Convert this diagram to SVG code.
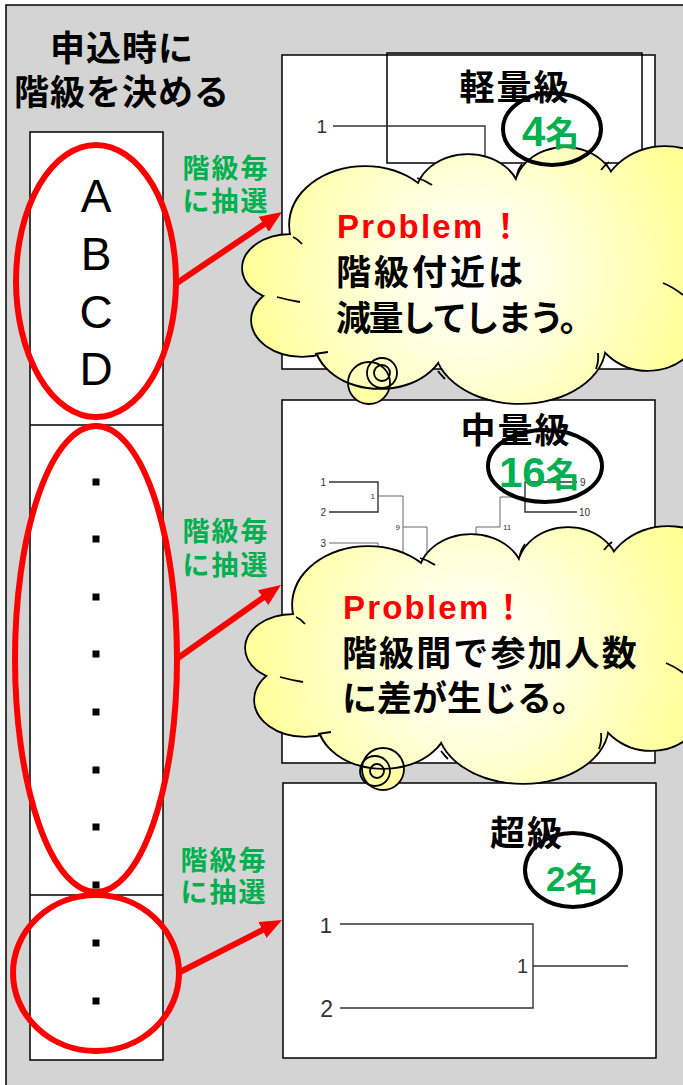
<svg xmlns="http://www.w3.org/2000/svg" width="683" height="1085" viewBox="0 0 683 1085">
<defs>
<style>
.jp{font-family:"Noto Sans CJK JP","Noto Sans CJK SC",sans-serif;font-weight:700}
.lat{font-family:"Liberation Sans","Noto Sans CJK JP",sans-serif}
.panel{fill:#fff;stroke:#000;stroke-width:1.5}
.br{fill:none;stroke:#333;stroke-width:1.4}
.br2{fill:none;stroke:#666;stroke-width:1}
.red{fill:none;stroke:#f00;stroke-width:6}
.oval{fill:none;stroke:#000;stroke-width:4}
.arrow{fill:none;stroke:#f00;stroke-width:6;marker-end:url(#ah)}
.inner{fill:none;stroke:#000;stroke-width:1.8}
.bub{fill:#ffffa6;stroke:none}
.bubs{fill:none;stroke:#000;stroke-width:1.8}
.gl{fill:#00b050;font-size:27px;letter-spacing:2px}
.pt{fill:#ff0000;font-size:33px;font-weight:700}
.ct{fill:#000;font-size:35px}
.num{fill:#333}
</style>
<radialGradient id="cg" gradientUnits="userSpaceOnUse" cx="470" cy="272" r="230">
<stop offset="0" stop-color="#ffffff"/><stop offset="0.35" stop-color="#ffffe2"/><stop offset="1" stop-color="#ffff96"/>
</radialGradient>
<marker id="ah" viewBox="0 0 22 18" refX="11" refY="9" markerWidth="22" markerHeight="18" markerUnits="userSpaceOnUse" orient="auto"><path d="M0,0 L22,9 L0,18 Z" fill="#f00"/></marker>
<g id="cloudShape">
<ellipse cx="470" cy="270" rx="180" ry="85"/>
<ellipse cx="640" cy="265" rx="40" ry="50"/>
<ellipse cx="290" cy="268" rx="47" ry="33"/>
<ellipse cx="365" cy="225" rx="75" ry="58"/>
<ellipse cx="468" cy="197" rx="52" ry="42"/>
<ellipse cx="565" cy="190" rx="50" ry="42"/>
<ellipse cx="665" cy="205" rx="65" ry="58"/>
<ellipse cx="700" cy="270" rx="60" ry="90"/>
<ellipse cx="648" cy="320" rx="55" ry="50"/>
<ellipse cx="520" cy="345" rx="85" ry="58"/>
<ellipse cx="380" cy="340" rx="65" ry="48"/>
<ellipse cx="302" cy="320" rx="50" ry="36"/>
</g>
<g id="cloudInner" class="inner">
<path d="M293,237 Q298,239 302,244"/>
<path d="M417,178 Q425,180 432,185"/>
<path d="M517,175 Q518,169 522,164"/>
<path d="M601,170 Q604,166 609,162"/>
<path d="M663,283 Q673,287 683,295"/>
<path d="M598,353 Q599,361 596,369"/>
<path d="M438,371 Q441,375 445,379"/>
<path d="M328,352 Q321,353 315,354"/>
<path d="M300,302 Q288,300 277,297"/>
</g>
</defs>

<rect id="frame" x="6" y="5" width="720" height="1120" fill="#d4d4d4" stroke="#000" stroke-width="1.5"/>

<g id="title">
<text class="jp" font-size="35" text-anchor="middle" letter-spacing="1"><tspan x="122" y="61">申込時に</tspan><tspan x="122" y="105">階級を決める</tspan></text>
</g>

<g id="column">
<rect x="30" y="132" width="133" height="928" fill="#fff" stroke="#000" stroke-width="1.5"/>
<line x1="30" y1="425" x2="163" y2="425" stroke="#000" stroke-width="1.5"/>
<line x1="30" y1="895" x2="163" y2="895" stroke="#000" stroke-width="1.5"/>
<g class="lat" font-size="46" text-anchor="middle" fill="#000">
<text x="96" y="212">A</text>
<text x="96" y="270">B</text>
<text x="96" y="328">C</text>
<text x="96" y="385">D</text>
</g>
<g fill="#000">
<rect x="92.5" y="478.5" width="7" height="7"/>
<rect x="92.5" y="535.5" width="7" height="7"/>
<rect x="92.5" y="593.5" width="7" height="7"/>
<rect x="92.5" y="650.5" width="7" height="7"/>
<rect x="92.5" y="708.5" width="7" height="7"/>
<rect x="92.5" y="766.5" width="7" height="7"/>
<rect x="92.5" y="823.5" width="7" height="7"/>
<rect x="92.5" y="881.5" width="7" height="7"/>
<rect x="92.5" y="939.5" width="7" height="7"/>
<rect x="92.5" y="997.5" width="7" height="7"/>
</g>
</g>

<g id="groups">
<ellipse class="red" cx="96" cy="281" rx="80" ry="136"/>
<ellipse class="red" cx="96" cy="659" rx="81" ry="233"/>
<ellipse class="red" cx="96" cy="973" rx="83" ry="78"/>
</g>

<g id="labels">
<text class="jp gl" text-anchor="middle"><tspan x="226" y="178">階級毎</tspan><tspan x="226" y="211">に抽選</tspan></text>
<text class="jp gl" text-anchor="middle"><tspan x="226" y="541">階級毎</tspan><tspan x="226" y="575">に抽選</tspan></text>
<text class="jp gl" text-anchor="middle"><tspan x="224" y="870">階級毎</tspan><tspan x="224" y="902">に抽選</tspan></text>
</g>

<g id="connectors">
<line class="arrow" x1="177" y1="283" x2="272.9" y2="218.2"/>
<line class="arrow" x1="178" y1="658" x2="272.0" y2="591.4"/>
<line class="arrow" x1="180" y1="972" x2="272.2" y2="925.0"/>
</g>

<g id="panel-light">
<rect class="panel" x="282" y="55" width="373" height="314"/>
<rect x="387" y="53" width="255" height="110" fill="none" stroke="#000" stroke-width="1.5"/>
<text class="lat num" x="327" y="133" font-size="19" text-anchor="end">1</text>
<path class="br" d="M333,126 H485 V175"/>
<text class="jp" x="515" y="100" font-size="35" text-anchor="middle" letter-spacing="2">軽量級</text>
</g>

<g id="panel-middle">
<rect class="panel" x="282" y="400" width="373" height="363"/>
<text class="jp" x="516" y="443" font-size="35" text-anchor="middle" letter-spacing="2">中量級</text>
<g class="lat num" font-size="10" text-anchor="end">
<text x="326" y="486">1</text>
<text x="326" y="516">2</text>
<text x="326" y="547">3</text>
</g>
<g class="lat num" font-size="8">
<text x="375" y="499" text-anchor="end">1</text>
<text x="400" y="530" text-anchor="end">9</text>
<text x="503" y="530">11</text>
</g>
<g class="lat num" font-size="10">
<text x="580" y="486">9</text>
<text x="579" y="516">10</text>
</g>
<path class="br" d="M329,482 H378 V512 H329"/>
<path class="br2" d="M378,496 H403 V560"/>
<path class="br2" d="M403,527 H427 V560"/>
<path class="br2" d="M329,543 H378 V570"/>
<path class="br" d="M577,482 H525 V512 H577"/>
<path class="br2" d="M525,497 H500 V527 H476 V560"/>
<ellipse class="oval" cx="545" cy="466" rx="57" ry="36"/>
<text class="jp" x="499" y="487" fill="#00b050"><tspan class="lat" font-weight="700" font-size="42">16</tspan><tspan font-size="34">名</tspan></text>
</g>

<g id="panel-heavy">
<rect class="panel" x="283" y="783" width="373" height="275"/>
<text class="jp" x="527" y="846" font-size="35" text-anchor="middle" letter-spacing="2">超級</text>
<ellipse class="oval" cx="573" cy="870" rx="48" ry="37"/>
<text class="jp" x="546" y="891" fill="#00b050"><tspan class="lat" font-weight="700" font-size="35">2</tspan><tspan font-size="33">名</tspan></text>
<text class="lat num" x="332" y="933" font-size="22" text-anchor="end">1</text>
<text class="lat num" x="333" y="1017" font-size="23" text-anchor="end">2</text>
<text class="lat num" x="528" y="973" font-size="20" text-anchor="end">1</text>
<path class="br" d="M340,924 H533 V1008 H340 M533,966 H628"/>
</g>

<g id="cloud1">
<circle class="bub" cx="369" cy="383" r="21"/>
<use href="#cloudShape" fill="url(#cg)" stroke="#000" stroke-width="3.6"/>
<use href="#cloudShape" fill="url(#cg)" stroke="none"/>
<use href="#cloudInner"/>
<circle class="bubs" cx="369" cy="383" r="21"/>
<circle class="bubs" cx="382" cy="373" r="15"/>
<circle class="bubs" cx="382" cy="373" r="8"/>
<text x="337" y="238" class="lat pt"><tspan letter-spacing="2.2">Problem</tspan><tspan x="489" class="jp">！</tspan></text>
<text class="jp ct"><tspan x="336" y="285" letter-spacing="3">階級付近は</tspan><tspan x="336" y="331" letter-spacing="-2.6">減量してしまう。</tspan></text>
</g>

<g id="badge-light">
<ellipse class="oval" cx="552" cy="129" rx="49" ry="36"/>
<text class="jp" x="522" y="146" fill="#00b050"><tspan class="lat" font-weight="700" font-size="42">4</tspan><tspan font-size="34">名</tspan></text>
</g>

<g id="cloud2">
<circle class="bub" cx="383" cy="769" r="21"/>
<g transform="translate(3,380)">
<use href="#cloudShape" fill="url(#cg)" stroke="#000" stroke-width="3.6"/>
<use href="#cloudShape" fill="url(#cg)" stroke="none"/>
<use href="#cloudInner"/>
</g>
<circle class="bubs" cx="383" cy="769" r="21"/>
<circle class="bubs" cx="375" cy="771" r="15"/>
<circle class="bubs" cx="377" cy="771" r="7"/>
<text x="343" y="619" class="lat pt"><tspan letter-spacing="2.2">Problem</tspan><tspan x="492" class="jp">！</tspan></text>
<text class="jp ct"><tspan x="342" y="666" letter-spacing="2.1">階級間で参加人数</tspan><tspan x="342" y="711" letter-spacing="0">に差が生じる。</tspan></text>
</g>
</svg>
